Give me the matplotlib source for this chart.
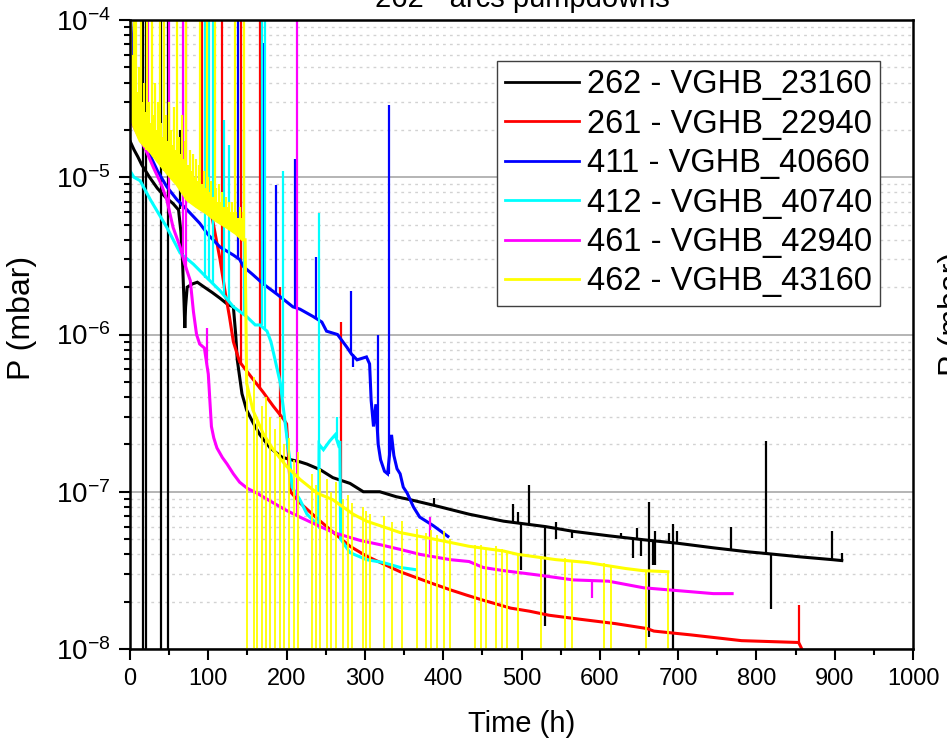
"""Arc pumpdown curves: pressure vs time for six vacuum gauges."""

import matplotlib
matplotlib.use("Agg")
import matplotlib.pyplot as plt
from matplotlib.ticker import FixedLocator, LogLocator, MultipleLocator, NullFormatter

plt.rcParams["font.family"] = ["Liberation Sans", "DejaVu Sans"]
plt.rcParams["mathtext.fontset"] = "custom"
plt.rcParams["mathtext.rm"] = "Liberation Sans"
plt.rcParams["mathtext.it"] = "Liberation Sans:italic"
plt.rcParams["mathtext.bf"] = "Liberation Sans:bold"

LABELS = [
    "262 - VGHB_23160",
    "261 - VGHB_22940",
    "411 - VGHB_40660",
    "412 - VGHB_40740",
    "461 - VGHB_42940",
    "462 - VGHB_43160",
]
COLORS = ["#000000", "#ff0000", "#0000ff", "#00ffff", "#ff00ff", "#ffff00"]

# ---- 262 (black) -----------------------------------------------------------
black_t = [0, 5, 10, 15, 25, 35, 45, 55, 62, 65, 67, 69, 70, 71, 73, 80, 86, 95,
           105, 115, 125, 132, 135, 137, 143, 149, 158, 166, 179, 194, 205, 217,
           226, 243, 259, 281, 298, 319, 340, 358, 388, 433, 477, 531, 566, 611,
           656, 700, 745, 789, 812, 857, 897, 909]
black_p = [1.7e-5, 1.5e-5, 1.35e-5, 1.2e-5, 1.0e-5, 8.5e-6, 7.5e-6, 6.8e-6, 6.2e-6,
           4.5e-6, 3.0e-6, 1.6e-6, 1.1e-6, 1.5e-6, 2.0e-6, 2.1e-6, 2.15e-6, 2.0e-6,
           1.85e-6, 1.7e-6, 1.55e-6, 1.5e-6, 1.0e-6, 6.9e-7, 4.2e-7, 3.3e-7, 2.7e-7,
           2.3e-7, 1.9e-7, 1.66e-7, 1.6e-7, 1.55e-7, 1.5e-7, 1.38e-7, 1.23e-7,
           1.13e-7, 1.0e-7, 1.0e-7, 9.3e-8, 8.9e-8, 8.2e-8, 7.2e-8, 6.5e-8, 6.0e-8,
           5.6e-8, 5.25e-8, 4.95e-8, 4.7e-8, 4.4e-8, 4.15e-8, 4.05e-8, 3.85e-8,
           3.7e-8, 3.65e-8]
black_spikes = [
    (16.5, 1e-9, 1e-3), (20.5, 1e-9, 1e-3), (39.5, 1e-9, 1e-3), (48.5, 1e-9, 1e-3),
    (64, 6.3e-6, 2e-5), (388, 8.2e-8, 9.1e-8), (489, 6.4e-8, 8.3e-8),
    (495, 6.3e-8, 7.4e-8), (499, 3.2e-8, 6.3e-8), (510, 6.2e-8, 1.1e-7),
    (530, 1.4e-8, 6.0e-8), (544, 5.0e-8, 6.4e-8), (565, 5.1e-8, 5.6e-8),
    (627, 5.1e-8, 5.5e-8), (642, 3.8e-8, 5.0e-8), (648, 5.0e-8, 5.9e-8),
    (653, 3.9e-8, 5.0e-8), (663, 1.2e-8, 8.6e-8), (668, 3.4e-8, 4.9e-8),
    (671, 3.4e-8, 5.6e-8), (689, 4.7e-8, 5.5e-8), (694, 1e-9, 6.2e-8),
    (698, 4.7e-8, 5.6e-8), (767, 4.3e-8, 6.0e-8), (812, 4.05e-8, 2.1e-7),
    (819, 1.8e-8, 4.0e-8), (897, 3.7e-8, 5.6e-8), (909, 3.65e-8, 4.1e-8),
]

# ---- 261 (red) -------------------------------------------------------------
red_t = [0, 3, 10, 25, 50, 75, 92, 105, 115, 122, 127, 132, 140, 157, 170, 183,
         196, 200, 205, 217, 240, 260, 281, 302, 345, 387, 410, 430, 450, 486,
         510, 535, 573, 620, 660, 669, 716, 781, 854, 858, 863]
red_p = [6e-5, 3e-5, 2.2e-5, 1.6e-5, 1.15e-5, 8.5e-6, 7.5e-6, 5.5e-6, 3e-6, 1.8e-6,
         1.3e-6, 9e-7, 6.7e-7, 5.2e-7, 4.3e-7, 3.5e-7, 2.9e-7, 2.7e-7, 1.0e-7,
         8.5e-8, 6.7e-8, 5.5e-8, 4.5e-8, 3.9e-8, 3.1e-8, 2.6e-8, 2.37e-8, 2.2e-8,
         2.05e-8, 1.82e-8, 1.74e-8, 1.64e-8, 1.55e-8, 1.45e-8, 1.35e-8, 1.3e-8,
         1.23e-8, 1.13e-8, 1.1e-8, 1.0e-8, 9e-9]
red_spikes = [
    (92, 7.5e-6, 1e-3), (117, 2.6e-6, 1e-3), (142, 6.5e-7, 1e-3),
    (166, 4.5e-7, 1e-3), (192, 3.0e-7, 2e-6), (270, 5.3e-8, 1.2e-6),
    (854, 1.1e-8, 1.9e-8),
]

# ---- 411 (blue) ------------------------------------------------------------
blue_t = [0, 2, 4, 8, 15, 25, 35, 47, 60, 73, 89, 100, 115, 132, 140, 145, 157,
          170, 188, 208, 217, 234, 245, 251, 265, 277, 283, 290, 302, 306, 308,
          311, 314, 317, 320, 325, 329, 334, 337, 341, 345, 349, 354, 362, 370,
          387, 406]
blue_p = [1.2e-4, 8e-5, 5e-5, 3e-5, 2e-5, 1.4e-5, 1.1e-5, 8.7e-6, 7.2e-6, 6.2e-6,
          5.1e-6, 4.3e-6, 3.6e-6, 3.2e-6, 3.0e-6, 2.7e-6, 2.4e-6, 2.1e-6, 1.8e-6,
          1.5e-6, 1.45e-6, 1.3e-6, 1.2e-6, 1.05e-6, 1.0e-6, 8.3e-7, 7.5e-7, 6.9e-7,
          7.2e-7, 6.5e-7, 3.8e-7, 2.6e-7, 3.6e-7, 2.0e-7, 1.6e-7, 1.35e-7, 1.3e-7,
          2.3e-7, 1.7e-7, 1.4e-7, 1.3e-7, 1.07e-7, 9.8e-8, 8.0e-8, 6.9e-8, 6.1e-8,
          5.2e-8]
blue_spikes = [
    (138, 3.0e-6, 1e-3), (170, 2.1e-6, 7.1e-5), (187, 1.8e-6, 8.9e-6),
    (211, 1.5e-6, 1.3e-5), (238, 1.25e-6, 3.1e-6), (282, 7.6e-7, 1.9e-6),
    (285, 6.2e-7, 7.5e-7), (317, 2.0e-7, 1.0e-6), (331, 1.3e-7, 2.9e-5),
]

# ---- 412 (cyan) ------------------------------------------------------------
cyan_t = [0, 5, 13, 26, 47, 64, 81, 98, 115, 132, 149, 160, 166, 175, 180, 185,
          192, 200, 204, 207, 217, 226, 235, 241, 241.5, 247, 255, 262, 266, 268,
          269, 281, 302, 323, 345, 364]
cyan_p = [1.1e-5, 1.0e-5, 9.5e-6, 7.2e-6, 4.8e-6, 3.3e-6, 2.8e-6, 2.3e-6, 1.9e-6,
          1.5e-6, 1.3e-6, 1.15e-6, 1.15e-6, 1.05e-6, 9e-7, 7e-7, 4.9e-7, 2.3e-7,
          1.6e-7, 1.07e-7, 8.9e-8, 7.2e-8, 6.5e-8, 6.0e-8, 2.0e-7, 1.85e-7, 2.1e-7,
          2.3e-7, 2.0e-7, 2.1e-7, 5.0e-8, 4.1e-8, 3.7e-8, 3.55e-8, 3.3e-8, 3.2e-8]
cyan_spikes = [
    (96, 2.3e-6, 1e-3), (101, 2.2e-6, 1e-3), (106, 2.1e-6, 1e-3),
    (120, 1.8e-6, 2.3e-5), (126, 1.6e-6, 1.6e-5), (145, 1.35e-6, 2.0e-5),
    (168, 1.15e-6, 1e-3), (173, 1.1e-6, 1e-3), (196, 4.0e-7, 1.1e-5),
    (241, 6.0e-8, 5.9e-6), (264, 2.2e-7, 3.0e-7),
]

# ---- 461 (magenta) ---------------------------------------------------------
magenta_t = [0, 5, 13, 20, 30, 40, 47, 55, 64, 70, 77, 81, 85, 89, 95, 98, 100,
             102, 104, 107, 111, 118, 124, 132, 140, 150, 162, 183, 200, 217, 240,
             260, 294, 320, 345, 370, 409, 433, 451, 477, 522, 566, 611, 656, 700,
             745, 769]
magenta_p = [2.3e-5, 2.1e-5, 1.75e-5, 1.5e-5, 1.15e-5, 9e-6, 7.2e-6, 4.8e-6, 3.6e-6,
             2.8e-6, 2.2e-6, 1.4e-6, 1.0e-6, 8.7e-7, 8.2e-7, 6.5e-7, 5.6e-7, 3.8e-7,
             2.6e-7, 2.2e-7, 1.9e-7, 1.65e-7, 1.5e-7, 1.3e-7, 1.15e-7, 1.05e-7,
             9.8e-8, 8.5e-8, 7.6e-8, 6.9e-8, 6.1e-8, 5.5e-8, 4.9e-8, 4.6e-8, 4.3e-8,
             4.0e-8, 3.7e-8, 3.6e-8, 3.3e-8, 3.15e-8, 2.95e-8, 2.75e-8, 2.7e-8,
             2.45e-8, 2.35e-8, 2.25e-8, 2.25e-8]
magenta_spikes = [
    (6, 2.1e-5, 1e-3), (23, 1.4e-5, 1e-3), (50, 6e-6, 1e-3), (68, 3.3e-6, 1e-3),
    (72, 2.6e-6, 1e-3), (98, 6.5e-7, 1.1e-6), (213, 7.1e-8, 1e-3),
    (383, 4.0e-8, 6.9e-8), (590, 2.1e-8, 2.7e-8),
]

# ---- 462 (yellow) ----------------------------------------------------------
yellow_t = [0, 5, 13, 26, 47, 60, 73, 85, 98, 110, 124, 135, 144, 147, 149, 157,
            170, 183, 200, 217, 239, 259, 285, 302, 323, 345, 388, 433, 477, 495,
            544, 584, 633, 655, 687]
yellow_p = [2.5e-5, 2.1e-5, 1.7e-5, 1.45e-5, 1.07e-5, 9e-6, 7.2e-6, 6.5e-6, 5.9e-6,
            5.3e-6, 4.8e-6, 4.4e-6, 4.0e-6, 4.0e-6, 4.9e-7, 3.3e-7, 2.35e-7,
            1.85e-7, 1.45e-7, 1.2e-7, 9.8e-8, 8.9e-8, 7.2e-8, 6.5e-8, 6.0e-8,
            5.5e-8, 5.0e-8, 4.5e-8, 4.2e-8, 4.0e-8, 3.7e-8, 3.55e-8, 3.25e-8,
            3.15e-8, 3.1e-8]
# noisy band above the early pumpdown curve
yellow_band = [
    (1, 2.4e-5, 1e-3), (3, 2.3e-5, 6e-5), (4.5, 2.2e-5, 1e-3), (6, 2.1e-5, 4.5e-5),
    (8, 2.0e-5, 1e-3), (10, 1.9e-5, 3.5e-5), (12, 1.75e-5, 5e-5), (14, 1.7e-5, 1e-3),
    (16, 1.6e-5, 3e-5), (18, 1.55e-5, 4e-5), (20, 1.5e-5, 2.6e-5), (22, 1.5e-5, 1e-3),
    (24, 1.47e-5, 3e-5), (26, 1.45e-5, 2.2e-5), (28, 1.4e-5, 1e-3), (30, 1.35e-5, 2.5e-5),
    (32, 1.3e-5, 4e-5), (34, 1.27e-5, 2e-5), (36, 1.23e-5, 3e-5), (38, 1.2e-5, 1e-3),
    (40, 1.17e-5, 2.2e-5), (42, 1.13e-5, 1.8e-5), (44, 1.1e-5, 1e-3), (46, 1.08e-5, 2.5e-5),
    (48, 1.06e-5, 1.7e-5), (50, 1.03e-5, 3e-5), (52, 1.0e-5, 2e-5), (54, 9.8e-6, 1.6e-5),
    (56, 9.5e-6, 2.8e-5), (58, 9.2e-6, 1.5e-5), (60, 9.0e-6, 1e-3), (62, 8.7e-6, 1.8e-5),
    (64, 8.4e-6, 1.4e-5), (66, 8.1e-6, 2.5e-5), (68, 7.8e-6, 1.3e-5), (70, 7.5e-6, 1.7e-5),
    (72, 7.3e-6, 1e-3), (74, 7.2e-6, 1.2e-5), (76, 7.0e-6, 1.5e-5), (78, 6.9e-6, 1.1e-5),
    (80, 6.8e-6, 1.4e-5), (82, 6.7e-6, 1.0e-5), (84, 6.5e-6, 1.3e-5), (86, 6.4e-6, 9.5e-6),
    (88, 6.3e-6, 1.2e-5), (90, 6.2e-6, 1e-3), (92, 6.1e-6, 9e-6), (94, 6.0e-6, 1.1e-5),
    (96, 5.9e-6, 8.5e-6), (98, 5.9e-6, 1e-3), (100, 5.8e-6, 1.0e-5), (102, 5.6e-6, 8e-6),
    (104, 5.5e-6, 9.5e-6), (106, 5.4e-6, 7.5e-6), (108, 5.35e-6, 1e-3), (110, 5.3e-6, 8.5e-6),
    (112, 5.2e-6, 7e-6), (114, 5.1e-6, 9e-6), (116, 5.0e-6, 7e-6), (118, 4.95e-6, 8e-6),
    (120, 4.9e-6, 6.5e-6), (122, 4.85e-6, 7.5e-6), (124, 4.8e-6, 6.5e-6), (126, 4.7e-6, 7e-6),
    (128, 4.6e-6, 6e-6), (130, 4.55e-6, 7e-6), (132, 4.5e-6, 6e-6), (134, 4.4e-6, 1e-3),
    (136, 4.35e-6, 6e-6), (138, 4.3e-6, 5.5e-6), (140, 4.2e-6, 6.5e-6), (142, 4.1e-6, 5.5e-6),
    (144, 4.0e-6, 6e-6), (146, 4.0e-6, 1e-3),
]
# gauge dropouts after the main step: (time, peak) of lines reaching below 1e-8
yellow_drop_t = [150, 158, 162, 168, 174, 179, 185, 191, 197, 203, 209, 214, 232,
                 237, 243, 251, 257, 263, 272, 278, 283, 297, 301, 306, 324, 334,
                 347, 367, 378, 384, 392, 401, 409, 440, 448, 455, 467, 475, 482,
                 496, 525, 556, 564, 606, 614, 659, 687]
yellow_drop_peak = [5e-7, 5.4e-7, 3e-7, 3.5e-7, 4e-7, 3e-7, 2.5e-7, 3e-7, 2e-7,
                    2.2e-7, 1.6e-7, 1.8e-7, 1.3e-7, 1.1e-7, 1.4e-7, 1.2e-7, 1.0e-7,
                    1.15e-7, 9e-8, 9.5e-8, 8.5e-8, 8e-8, 7.5e-8, 7.2e-8, 7e-8,
                    6.4e-8, 6.5e-8, 5.8e-8, 5.5e-8, 5.7e-8, 5.3e-8, 5.6e-8, 5.0e-8,
                    4.6e-8, 4.6e-8, 4.4e-8, 4.5e-8, 4.3e-8, 4.2e-8, 4.1e-8, 3.9e-8,
                    3.8e-8, 3.7e-8, 3.5e-8, 3.4e-8, 3.2e-8, 3.1e-8]
DROP_FLOOR = 1e-9

X_TICKS = [0, 100, 200, 300, 400, 500, 600, 700, 800, 900, 1000]
Y_TICKS = [1e-8, 1e-7, 1e-6, 1e-5, 1e-4]
Y_TICK_LABELS = ["10$^{-8}$", "10$^{-7}$", "10$^{-6}$", "10$^{-5}$", "10$^{-4}$"]


def draw_series(ax, t, p, spikes, color, label, lw=2.2, spike_lw=1.6):
    ax.plot(t, p, color=color, lw=lw, label=label, solid_joinstyle="miter")
    if spikes:
        st, lo, hi = zip(*spikes)
        ax.vlines(st, lo, hi, color=color, lw=spike_lw)


def main():
    fig = plt.figure(figsize=(9.47, 7.5), dpi=100)
    ax = fig.add_axes([130 / 947, 101 / 750, 783 / 947, 629 / 750])

    draw_series(ax, black_t, black_p, black_spikes, COLORS[0], LABELS[0])
    draw_series(ax, red_t, red_p, red_spikes, COLORS[1], LABELS[1])
    draw_series(ax, blue_t, blue_p, blue_spikes, COLORS[2], LABELS[2])
    draw_series(ax, cyan_t, cyan_p, cyan_spikes, COLORS[3], LABELS[3])
    draw_series(ax, magenta_t, magenta_p, magenta_spikes, COLORS[4], LABELS[4])
    draw_series(ax, yellow_t, yellow_p, yellow_band, COLORS[5], LABELS[5], spike_lw=1.6)
    ax.vlines(yellow_drop_t, DROP_FLOOR, yellow_drop_peak, color=COLORS[5], lw=1.3)

    ax.set_yscale("log")
    ax.set_xlim(0, 1000)
    ax.set_ylim(1e-8, 1e-4)

    ax.xaxis.set_major_locator(FixedLocator(X_TICKS))
    ax.xaxis.set_minor_locator(MultipleLocator(50))
    ax.set_xticklabels([str(v) for v in X_TICKS], fontsize=17)
    ax.yaxis.set_major_locator(FixedLocator(Y_TICKS))
    ax.yaxis.set_minor_locator(LogLocator(base=10, subs=range(2, 10), numticks=20))
    ax.yaxis.set_minor_formatter(NullFormatter())
    ax.set_yticklabels(Y_TICK_LABELS, fontsize=20)

    ax.tick_params(which="major", direction="out", length=8, width=1.5, pad=6,
                   top=False, right=False)
    ax.tick_params(which="minor", direction="out", length=4.5, width=1.5,
                   top=False, right=False)
    for spine in ax.spines.values():
        spine.set_linewidth(1.8)

    ax.set_axisbelow(True)
    ax.grid(True, which="major", axis="y", color="#a8a8a8", lw=1.2, ls="-")
    ax.grid(True, which="minor", axis="y", color="#d2d2d2", lw=1.0, ls=(0, (2, 3)))

    ax.set_xlabel("Time (h)", fontsize=21, labelpad=14)
    ax.set_ylabel("P (mbar)", fontsize=23)
    ax.yaxis.set_label_coords(-0.119, 0.526)

    leg = ax.legend(loc="upper right", bbox_to_anchor=(0.958, 0.935), fontsize=23.5,
                    frameon=True, fancybox=False, framealpha=1, edgecolor="#404040",
                    borderaxespad=0, borderpad=0.25, labelspacing=0.26,
                    handlelength=2.25, handletextpad=0.25)
    leg.get_frame().set_linewidth(1.0)
    for line in leg.get_lines():
        line.set_linewidth(2.0)

    # title and the neighbouring panel's axis label are both cut by the crop
    fig.text(522 / 947, 1 - 7 / 750, "262 - arcs pumpdowns", ha="center",
             va="baseline", fontsize=21)
    fig.text(938 / 947, 1 - 314 / 750, "P (mbar)", rotation=90, ha="left",
             va="center", fontsize=23)

    fig.savefig("out.png", dpi=100)


if __name__ == "__main__":
    main()
